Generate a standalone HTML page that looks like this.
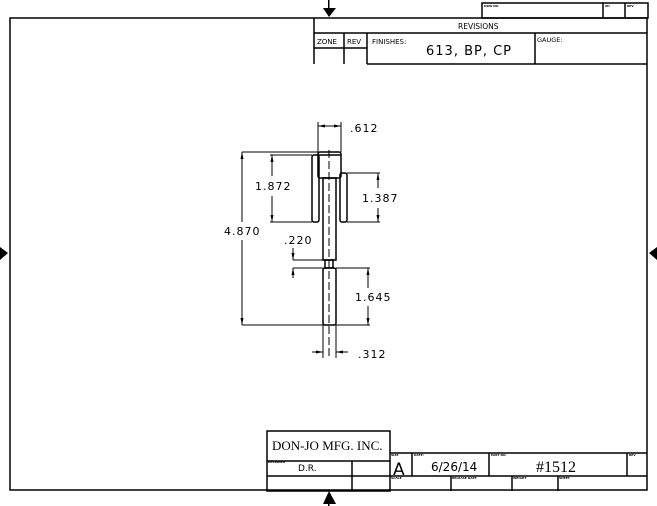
<!DOCTYPE html>
<html><head><style>
body{margin:0;background:#fff}
svg{display:block}
text{font-family:"DejaVu Sans","Liberation Sans",sans-serif;fill:#000}
.s{font-size:3px;font-weight:bold}
</style></head><body>
<svg width="657" height="506" viewBox="0 0 657 506" xmlns="http://www.w3.org/2000/svg">
<g stroke="#000" stroke-width="1.5" fill="none">
<rect x="10" y="18" width="637" height="472"/>
<polyline points="314,64 314,18"/>
<line x1="314" y1="33" x2="647" y2="33"/>
<line x1="314" y1="48" x2="367" y2="48"/>
<line x1="344" y1="33" x2="344" y2="64"/>
<line x1="367" y1="33" x2="367" y2="64"/>
<line x1="367" y1="64" x2="647" y2="64"/>
<line x1="535" y1="33" x2="535" y2="64"/>
<rect x="482" y="3" width="166" height="15"/>
<line x1="603" y1="3" x2="603" y2="18"/>
<line x1="625" y1="3" x2="625" y2="18"/>
<rect x="267" y="431" width="123" height="60"/>
<line x1="267" y1="461" x2="390" y2="461"/>
<line x1="267" y1="476" x2="390" y2="476"/>
<line x1="352" y1="461" x2="352" y2="491"/>
<line x1="390" y1="453" x2="647" y2="453"/>
<line x1="390" y1="476" x2="647" y2="476"/>
<line x1="412" y1="453" x2="412" y2="476"/>
<line x1="489" y1="453" x2="489" y2="476"/>
<line x1="627" y1="453" x2="627" y2="476"/>
<line x1="451" y1="476" x2="451" y2="491"/>
<line x1="512" y1="476" x2="512" y2="491"/>
<line x1="558" y1="476" x2="558" y2="491"/>
<rect x="318" y="152" width="23" height="26" rx="2"/>
<line x1="318" y1="155" x2="341" y2="155"/>
<rect x="323" y="178" width="13" height="82"/>
<rect x="325" y="260" width="8" height="8"/>
<rect x="323" y="268" width="13" height="57" rx="2"/>
<rect x="312" y="155" width="7" height="67" rx="2"/>
<rect x="340" y="173" width="7" height="49" rx="2"/>
</g>
<g stroke="#000" stroke-width="1" fill="none">
<line x1="329" y1="150" x2="329" y2="358" stroke-dasharray="8,3"/>
<line x1="242" y1="152" x2="318" y2="152"/><line x1="242" y1="325" x2="323" y2="325"/>
<line x1="242" y1="152" x2="242" y2="222"/><line x1="242" y1="240" x2="242" y2="325"/>
<line x1="270" y1="155" x2="312" y2="155"/><line x1="270" y1="222" x2="312" y2="222"/>
<line x1="272" y1="155" x2="272" y2="176"/><line x1="272" y1="196" x2="272" y2="222"/>
<line x1="347" y1="173" x2="380" y2="173"/><line x1="347" y1="222" x2="380" y2="222"/>
<line x1="378" y1="173" x2="378" y2="188"/><line x1="378" y1="208" x2="378" y2="222"/>
<line x1="293" y1="260" x2="323" y2="260"/><line x1="293" y1="268" x2="323" y2="268"/>
<line x1="293" y1="248" x2="293" y2="260"/><line x1="293" y1="268" x2="293" y2="278"/>
<line x1="336" y1="268" x2="370" y2="268"/><line x1="336" y1="325" x2="370" y2="325"/>
<line x1="368" y1="268" x2="368" y2="288"/><line x1="368" y1="306" x2="368" y2="325"/>
<line x1="318" y1="122" x2="318" y2="152"/><line x1="341" y1="122" x2="341" y2="152"/>
<line x1="318" y1="126" x2="341" y2="126"/>
<line x1="323" y1="325" x2="323" y2="358"/><line x1="336" y1="325" x2="336" y2="358"/>
<line x1="312" y1="352" x2="323" y2="352"/><line x1="336" y1="352" x2="348" y2="352"/>
</g>
<g fill="#000">
<polygon points="240.5,159 243.5,159 242,152"/><polygon points="240.5,318 243.5,318 242,325"/>
<polygon points="270.5,162 273.5,162 272,155"/><polygon points="270.5,215 273.5,215 272,222"/>
<polygon points="376.5,180 379.5,180 378,173"/><polygon points="376.5,215 379.5,215 378,222"/>
<polygon points="291.5,253 294.5,253 293,260"/><polygon points="291.5,275 294.5,275 293,268"/>
<polygon points="366.5,275 369.5,275 368,268"/><polygon points="366.5,318 369.5,318 368,325"/>
<polygon points="325,124.5 325,127.5 318,126"/><polygon points="334,124.5 334,127.5 341,126"/>
<polygon points="316,350.5 316,353.5 323,352"/><polygon points="343,350.5 343,353.5 336,352"/>
<rect x="328" y="0" width="1.5" height="8"/><polygon points="323,8 336,8 329,17"/>
<rect x="328" y="495" width="1.5" height="11"/><polygon points="323,504 336,504 329,491"/>
<polygon points="0,247 0,260 8,253"/><polygon points="657,247 657,260 649,253"/>
</g>
<text x="224" y="235" font-size="11" letter-spacing="1">4.870</text>
<text x="255" y="190" font-size="11" letter-spacing="1">1.872</text>
<text x="362" y="202" font-size="11" letter-spacing="1">1.387</text>
<text x="284" y="244" font-size="11" letter-spacing="1">.220</text>
<text x="355" y="301" font-size="11" letter-spacing="1">1.645</text>
<text x="350" y="132" font-size="11" letter-spacing="1">.612</text>
<text x="358" y="358" font-size="11" letter-spacing="1">.312</text>
<text x="458" y="29" font-size="7.5">REVISIONS</text>
<text x="317" y="44" font-size="7">ZONE</text>
<text x="347" y="44" font-size="7">REV</text>
<text x="372" y="44" font-size="7">FINISHES:</text>
<text x="426" y="55" font-size="13" letter-spacing="1">613, BP, CP</text>
<text x="537" y="42" font-size="6.5">GAUGE:</text>
<text x="272" y="450" font-size="13" style="font-family:'Liberation Serif',serif">DON-JO MFG. INC.</text>
<text x="298" y="471" font-size="9">D.R.</text>
<text x="393" y="475" font-size="17">A</text>
<text x="431" y="471" font-size="12">6/26/14</text>
<text x="536" y="472" font-size="16" style="font-family:'Liberation Serif',serif">#1512</text>
<text class="s" x="484" y="7">DWG NO</text><text class="s" x="605" y="7">SH</text><text class="s" x="627" y="7">REV</text>
<text class="s" x="268" y="463">DESIGNER</text><text class="s" x="391" y="456">SIZE</text><text class="s" x="414" y="456">DATE:</text>
<text class="s" x="491" y="456">PART NO.</text><text class="s" x="629" y="456">REV</text>
<text class="s" x="391" y="479">SCALE</text><text class="s" x="452" y="479">RELEASE DATE</text><text class="s" x="513" y="479">WEIGHT</text><text class="s" x="559" y="479">SHEET</text>
</svg>
</body></html>
